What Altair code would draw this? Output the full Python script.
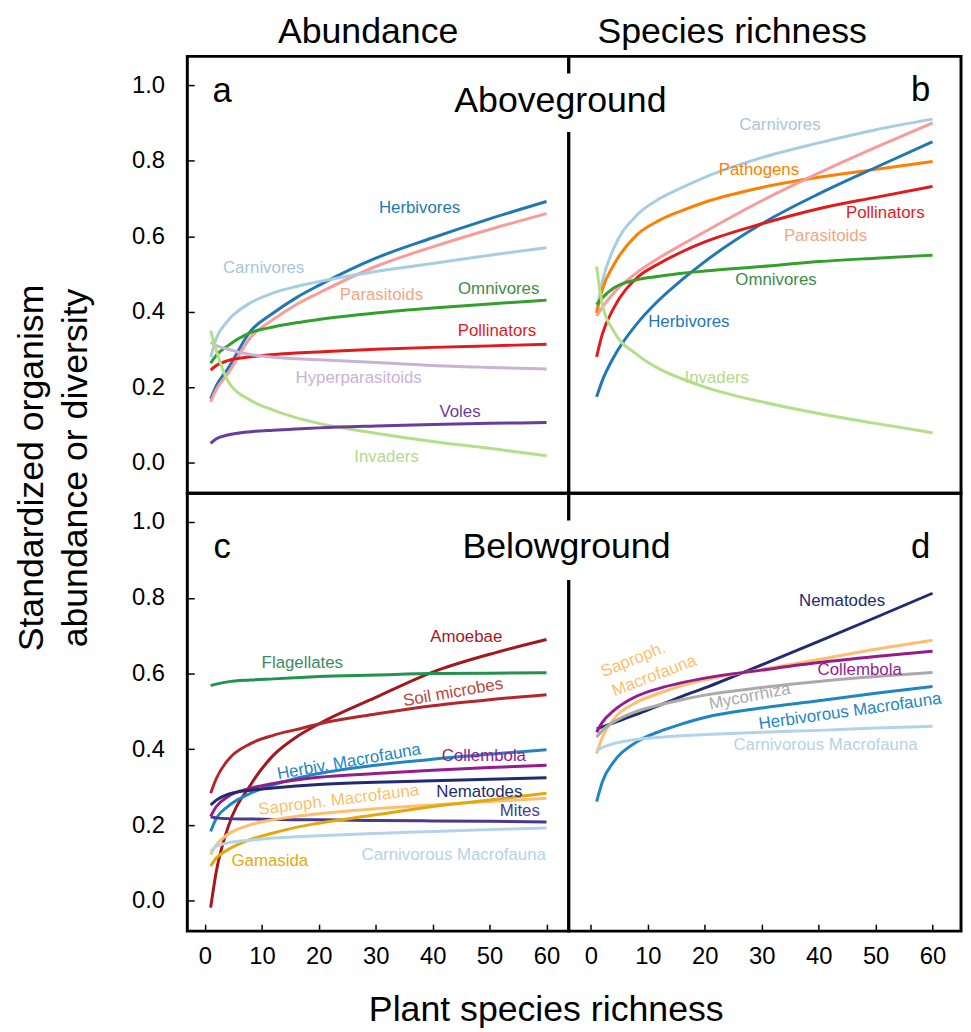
import altair as alt
import pandas as pd

FONT = "Liberation Sans"
X_PTS = [1, 2, 4, 8, 12, 16, 20, 30, 40, 50, 60]

# ---------------- panel a: aboveground abundance ----------------
a_series = {
    "Herbivores":       [0.170, 0.205, 0.249, 0.349, 0.397, 0.437, 0.470, 0.542, 0.596, 0.646, 0.692],
    "Parasitoids":      [0.162, 0.195, 0.236, 0.332, 0.380, 0.419, 0.450, 0.520, 0.572, 0.618, 0.660],
    "Carnivores":       [0.280, 0.330, 0.376, 0.424, 0.450, 0.467, 0.480, 0.507, 0.528, 0.550, 0.570],
    "Omnivores":        [0.264, 0.285, 0.310, 0.345, 0.360, 0.371, 0.380, 0.397, 0.410, 0.421, 0.431],
    "Pollinators":      [0.246, 0.258, 0.271, 0.281, 0.287, 0.291, 0.294, 0.301, 0.306, 0.310, 0.314],
    "Hyperparasitoids": [0.319, 0.311, 0.301, 0.287, 0.280, 0.276, 0.273, 0.266, 0.258, 0.253, 0.249],
    "Invaders":         [0.350, 0.297, 0.218, 0.166, 0.140, 0.120, 0.105, 0.079, 0.057, 0.039, 0.019],
    "Voles":            [0.052, 0.064, 0.074, 0.083, 0.087, 0.090, 0.093, 0.098, 0.102, 0.105, 0.107],
}
a_lab_names = ["Herbivores", "Carnivores", "Parasitoids", "Omnivores", "Pollinators",
               "Hyperparasitoids", "Voles", "Invaders"]
a_lab_x = [37.7, 10.3, 31.0, 51.6, 51.3, 27.0, 44.8, 31.9]
a_lab_y = [0.675, 0.515, 0.445, 0.461, 0.348, 0.225, 0.134, 0.017]
a_lab_angle = [0, 0, 0, 0, 0, 0, 0, 0]

# ---------------- panel b: aboveground species richness ----------------
b_series = {
    "Carnivores":  [0.402, 0.480, 0.568, 0.655, 0.699, 0.729, 0.756, 0.808, 0.847, 0.882, 0.910],
    "Pathogens":   [0.397, 0.459, 0.524, 0.603, 0.642, 0.668, 0.690, 0.729, 0.756, 0.777, 0.798],
    "Parasitoids": [0.389, 0.412, 0.450, 0.503, 0.543, 0.578, 0.612, 0.694, 0.767, 0.835, 0.900],
    "Herbivores":  [0.175, 0.218, 0.280, 0.367, 0.432, 0.485, 0.533, 0.633, 0.712, 0.782, 0.850],
    "Pollinators": [0.281, 0.341, 0.410, 0.489, 0.528, 0.559, 0.585, 0.633, 0.673, 0.703, 0.732],
    "Omnivores":   [0.419, 0.437, 0.463, 0.485, 0.494, 0.502, 0.508, 0.520, 0.533, 0.542, 0.550],
    "Invaders":    [0.520, 0.419, 0.349, 0.288, 0.249, 0.223, 0.201, 0.162, 0.131, 0.105, 0.080],
}
b_lab_names = ["Carnivores", "Pathogens", "Pollinators", "Parasitoids", "Omnivores",
               "Herbivores", "Invaders"]
b_lab_x = [33.2, 29.5, 51.7, 41.2, 32.5, 17.2, 22.1]
b_lab_y = [0.894, 0.776, 0.661, 0.600, 0.483, 0.373, 0.225]
b_lab_angle = [0, 0, 0, 0, 0, 0, 0]

# ---------------- panel c: belowground abundance ----------------
c_series = {
    "Amoebae":                [-0.018, 0.078, 0.192, 0.306, 0.384, 0.432, 0.467, 0.537, 0.604, 0.651, 0.690],
    "Soil microbes":          [0.284, 0.323, 0.371, 0.415, 0.437, 0.452, 0.467, 0.493, 0.515, 0.531, 0.544],
    "Flagellates":            [0.568, 0.572, 0.578, 0.583, 0.586, 0.589, 0.592, 0.596, 0.600, 0.601, 0.602],
    "Herbiv. Macrofauna":     [0.183, 0.218, 0.249, 0.284, 0.306, 0.323, 0.336, 0.358, 0.374, 0.387, 0.399],
    "Collembola":             [0.223, 0.249, 0.275, 0.297, 0.310, 0.319, 0.326, 0.336, 0.345, 0.352, 0.358],
    "Nematodes":              [0.253, 0.266, 0.281, 0.292, 0.298, 0.303, 0.307, 0.313, 0.317, 0.321, 0.325],
    "Mites":                  [0.222, 0.219, 0.217, 0.216, 0.215, 0.214, 0.214, 0.212, 0.211, 0.210, 0.208],
    "Saproph. Macrofauna":    [0.122, 0.148, 0.175, 0.201, 0.214, 0.223, 0.230, 0.243, 0.253, 0.262, 0.271],
    "Gamasida":               [0.092, 0.113, 0.135, 0.162, 0.179, 0.194, 0.205, 0.227, 0.249, 0.266, 0.284],
    "Carnivorous Macrofauna": [0.131, 0.144, 0.153, 0.160, 0.166, 0.169, 0.172, 0.178, 0.183, 0.188, 0.192],
}
c_lab_names = ["Amoebae", "Flagellates", "Soil microbes", "Herbiv. Macrofauna", "Collembola",
               "Saproph. Macrofauna", "Nematodes", "Mites", "Gamasida", "Carnivorous Macrofauna"]
c_lab_x = [45.9, 17.1, 43.6, 25.3, 49.0, 23.5, 48.2, 55.3, 11.4, 43.7]
c_lab_y = [0.696, 0.629, 0.550, 0.367, 0.381, 0.266, 0.286, 0.236, 0.106, 0.122]
c_lab_angle = [0, 0, 350, 350, 0, 353, 0, 0, 0, 0]

# ---------------- panel d: belowground species richness ----------------
d_series = {
    "Nematodes":              [0.454, 0.459, 0.470, 0.492, 0.516, 0.540, 0.562, 0.623, 0.685, 0.748, 0.812],
    "Saproph. Macrofauna":    [0.389, 0.432, 0.480, 0.524, 0.548, 0.568, 0.583, 0.611, 0.637, 0.664, 0.688],
    "Collembola":             [0.445, 0.471, 0.502, 0.540, 0.561, 0.576, 0.588, 0.609, 0.629, 0.645, 0.659],
    "Mycorrhiza":             [0.432, 0.450, 0.472, 0.500, 0.517, 0.531, 0.543, 0.563, 0.579, 0.592, 0.603],
    "Herbivorous Macrofauna": [0.262, 0.314, 0.367, 0.419, 0.447, 0.467, 0.484, 0.509, 0.528, 0.548, 0.566],
    "Carnivorous Macrofauna": [0.397, 0.405, 0.415, 0.426, 0.432, 0.436, 0.439, 0.445, 0.450, 0.456, 0.461],
}
d_lab_names = ["Nematodes", "Saproph.", "Macrofauna", "Collembola", "Mycorrhiza",
               "Herbivorous Macrofauna", "Carnivorous Macrofauna"]
d_lab_x = [44.1, 7.45, 11.1, 47.2, 27.9, 45.5, 41.2]
d_lab_y = [0.792, 0.636, 0.594, 0.610, 0.539, 0.500, 0.410]
d_lab_angle = [0, 338, 339, 0, 349, 352, 0]

# ---------------- colours ----------------
COL = {
    "Herbivores": "#1f78b4", "Parasitoids": "#f79c9a", "Carnivores": "#a6cee3",
    "Omnivores": "#33a02c", "Pollinators": "#e31a1c", "Hyperparasitoids": "#cab2d6",
    "Invaders": "#b2df8a", "Voles": "#6a3d9a", "Pathogens": "#ff7f00",
    "Amoebae": "#a3171d", "Soil microbes": "#b3262b", "Flagellates": "#23924f",
    "Herbiv. Macrofauna": "#1f86c2", "Collembola": "#951c8c", "Nematodes": "#202b72",
    "Mites": "#4a3990", "Saproph. Macrofauna": "#fdbf6f", "Saproph.": "#fdbf6f",
    "Macrofauna": "#fdbf6f", "Gamasida": "#e3a90c", "Carnivorous Macrofauna": "#b3d3e8",
    "Mycorrhiza": "#aaaaaa", "Herbivorous Macrofauna": "#1f86c2",
}
LABEL_COL = dict(COL)
LABEL_COL.update({"Carnivores": "#a9c4e0", "Parasitoids": "#f4a582", "Omnivores": "#3d8c45",
                  "Invaders": "#b5d98a", "Soil microbes": "#b8473d", "Flagellates": "#3a8a6a"})

Y_DOM = [-0.08, 1.076]
XA_DOM = [-3.1, 63.9]
XB_DOM = [-3.9, 65.0]


def xaxis(show):
    if not show:
        return None
    return alt.Axis(values=[0, 10, 20, 30, 40, 50, 60], title=None, tickSize=7, offset=-7,
                    domain=False, grid=False, labelFontSize=24, labelFont=FONT,
                    labelPadding=14, tickColor="black", tickWidth=1.5, labelColor="black",
                    labelFlush=False, labelOverlap=False)


def yaxis(show):
    if not show:
        return None
    return alt.Axis(values=[0, 0.2, 0.4, 0.6, 0.8, 1.0], format=".1f", title=None, tickSize=7,
                    offset=-7, domain=False, grid=False, labelFontSize=24, labelFont=FONT,
                    labelPadding=23, tickColor="black", tickWidth=1.5, labelColor="black",
                    labelFlush=False, labelOverlap=False)


def panel(series, names, lx, ly, lang, letter, letter_x, letter_y, xdom, width, height,
          show_x, show_y, title=None, big=None, mask=None):
    rows = []
    for name, vals in series.items():
        for xv, yv in zip(X_PTS, vals):
            rows.append({"x": xv, "y": yv, "series": name, "color": COL[name]})
    df = pd.DataFrame(rows)
    xs = alt.Scale(domain=xdom, nice=False, zero=False)
    ys = alt.Scale(domain=Y_DOM, nice=False, zero=False)
    X = lambda f: alt.X(f, type="quantitative", scale=xs, axis=xaxis(show_x))
    Y = lambda f: alt.Y(f, type="quantitative", scale=ys, axis=yaxis(show_y))

    lines = alt.Chart(df).mark_line(strokeWidth=3, interpolate="monotone").encode(
        x=X("x"), y=Y("y"),
        color=alt.Color("color:N", scale=None),
        detail="series:N",
    )
    ldf = pd.DataFrame({"label": names, "x": lx, "y": ly, "angle": lang,
                        "color": [LABEL_COL[n] for n in names]})
    labels = alt.Chart(ldf).mark_text(font=FONT, fontSize=17, align="center",
                                      baseline="middle").encode(
        x=X("x"), y=Y("y"), text="label:N",
        color=alt.Color("color:N", scale=None),
        angle=alt.Angle("angle:Q", scale=None),
    )
    tdf = pd.DataFrame({"label": [letter], "x": [letter_x], "y": [letter_y]})
    let = alt.Chart(tdf).mark_text(font=FONT, fontSize=35, align="center", baseline="middle",
                                   color="black").encode(x=X("x"), y=Y("y"), text="label:N")
    layers = [lines, labels, let]
    if mask is not None:
        mdf = pd.DataFrame({"x0": [mask[0]], "x1": [mask[1]], "y0": [mask[2]], "y1": [mask[3]]})
        layers.append(alt.Chart(mdf).mark_rect(color="white").encode(
            x=X("x0"), x2="x1", y=Y("y0"), y2="y1"))
    if big is not None:
        bdf = pd.DataFrame({"label": [big[0]], "x": [big[1]], "y": [big[2]]})
        layers.append(alt.Chart(bdf).mark_text(font=FONT, fontSize=36, align="center",
                                               baseline="alphabetic", color="black").encode(
            x=X("x"), y=Y("y"), text="label:N"))
    ch = alt.layer(*layers).properties(width=width, height=height)
    if title is not None:
        ch = ch.properties(title=title)
    return ch


pa = panel(a_series, a_lab_names, a_lab_x, a_lab_y, a_lab_angle, "a", 3.0, 0.984,
           XA_DOM, 385, 441, False, True,
           title=alt.TitleParams("Abundance", font=FONT, fontSize=36, fontWeight="normal",
                                 anchor="middle", dx=-10, offset=5, color="black"))
pb = panel(b_series, b_lab_names, b_lab_x, b_lab_y, b_lab_angle, "b", 57.9, 0.987,
           XB_DOM, 396, 441, False, False,
           title=alt.TitleParams("Species richness", font=FONT, fontSize=36, fontWeight="normal",
                                 anchor="middle", dx=-33, offset=5, color="black"),
           big=("Aboveground", -5.36, 0.928), mask=(-6.5, -1.5, 0.876, 1.031))
pc = panel(c_series, c_lab_names, c_lab_x, c_lab_y, c_lab_angle, "c", 3.0, 0.933,
           XA_DOM, 385, 442, True, True)
pd_ = panel(d_series, d_lab_names, d_lab_x, d_lab_y, d_lab_angle, "d", 57.9, 0.934,
            XB_DOM, 396, 442, True, False,
            big=("Belowground", -4.3, 0.906), mask=(-6.5, -1.5, 0.847, 1.004))

grid = alt.concat(pa, pb, pc, pd_, columns=2, spacing=0, bounds="flush",
                  title=alt.TitleParams("Plant species richness", orient="bottom", font=FONT,
                                        fontSize=36, fontWeight="normal", anchor="middle",
                                        offset=23, color="black"))
chart = alt.hconcat(grid, title=alt.TitleParams(["Standardized organism", "abundance or diversity"],
                                                orient="left", font=FONT, fontSize=36,
                                                fontWeight="normal", anchor="middle",
                                                lineHeight=45, offset=35, dx=53, color="black")
                    ).configure(padding={"left": 6, "top": 0, "right": 0, "bottom": 0},
                                view=alt.ViewConfig(stroke="black", strokeWidth=3))

chart.save("out.html", embed_options={"renderer": "svg", "actions": False})
